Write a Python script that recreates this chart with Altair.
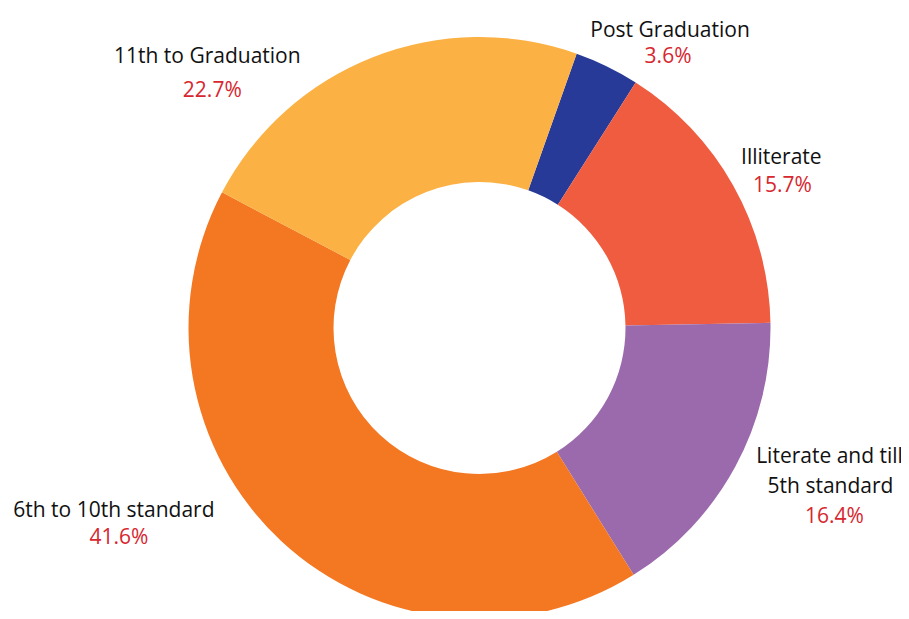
import altair as alt
import pandas as pd
import math

categories = ["Post Graduation", "Illiterate", "Literate and till 5th standard",
              "6th to 10th standard", "11th to Graduation"]
label_line1 = ["Post Graduation", "Illiterate", "Literate and till",
               "6th to 10th standard", "11th to Graduation"]
label_line2 = ["", "", "5th standard", "", ""]
values = [3.6, 15.7, 16.4, 41.6, 22.7]
pct_labels = ["3.6%", "15.7%", "16.4%", "41.6%", "22.7%"]
colors = ["#283A97", "#F05C40", "#9B6AAD", "#F47721", "#FBB143"]

df = pd.DataFrame({
    "cat": categories,
    "line1": label_line1,
    "line2": label_line2,
    "value": values,
    "pct": pct_labels,
    "idx": list(range(len(categories))),
})

start = math.radians(19.5)
theta_scale = alt.Scale(domain=[0, 1], range=[start, start + 2 * math.pi])
CX, CY = 471.5, 320

base = (
    alt.Chart(df)
    .transform_joinaggregate(total="sum(value)")
    .transform_window(cum="sum(value)", sort=[alt.SortField("idx")], frame=[None, 0])
    .transform_calculate(
        t1="datum.cum / datum.total",
        t0="(datum.cum - datum.value) / datum.total",
        tm="(datum.cum - datum.value / 2) / datum.total",
    )
    .encode(x=alt.value(CX), y=alt.value(CY))
)

arcs = base.mark_arc(outerRadius=291, innerRadius=146, stroke=None).encode(
    theta=alt.Theta("t0:Q", scale=theta_scale),
    theta2="t1:Q",
    color=alt.Color("cat:N", scale=alt.Scale(domain=categories, range=colors), legend=None),
)

# label offsets from the mid-angle anchor (name dx, dy, pct dx, dy)
offsets = {
    "Post Graduation": (46, 6, 44, 32),
    "Illiterate": (14, -3, 15, 25),
    "Literate and till 5th standard": (60, -22, 65, 38),
    "6th to 10th standard": (-141, -53, -136, -26),
    "11th to Graduation": (-152, 42, -147, 76),
}

FONT = "Open Sans"
FS = 21
LINE = 30


def label_layer(c, field, dx, dy, color):
    return (
        base.transform_filter(alt.datum.cat == c)
        .mark_text(radius=330, dx=dx, dy=dy, font=FONT, fontSize=FS,
                   color=color, align="center", baseline="alphabetic")
        .encode(theta=alt.Theta("tm:Q", scale=theta_scale), text=alt.Text(f"{field}:N"))
    )


layers = [arcs]
for c, l2 in zip(categories, label_line2):
    ndx, ndy, pdx, pdy = offsets[c]
    layers.append(label_layer(c, "line1", ndx, ndy, "#111111"))
    if l2:
        layers.append(label_layer(c, "line2", ndx + 1, ndy + LINE, "#111111"))
    layers.append(label_layer(c, "pct", pdx, pdy, "#D7272F"))

chart = alt.layer(*layers).properties(
    width=893, height=603, padding=0, autosize=alt.AutoSizeParams(type="none")
).configure_view(stroke=None)

chart.save("out.html", embed_options={"renderer": "svg", "actions": False})
